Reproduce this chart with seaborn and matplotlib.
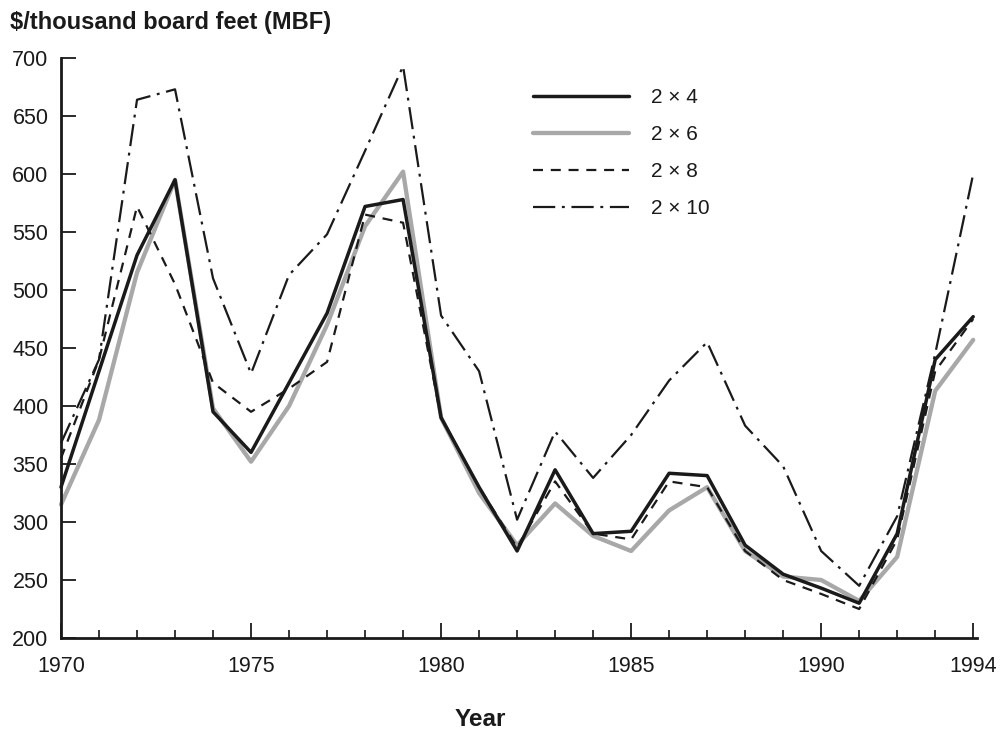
#!/usr/bin/env python3
"""Lumber prices per MBF, 1970-1994, by dimension (2x4 .. 2x10)."""

import matplotlib

matplotlib.use("Agg")
import matplotlib.pyplot as plt
import pandas as pd
import seaborn as sns

# Data
years = list(range(1970, 1995))
price_2x4 = [330, 430, 530, 595, 395, 360, 420, 480, 572, 578, 390, 330, 275,
             345, 290, 292, 342, 340, 280, 255, 243, 230, 290, 440, 477]
price_2x6 = [315, 388, 515, 595, 398, 352, 400, 470, 555, 602, 390, 325, 280,
             316, 288, 275, 310, 330, 275, 253, 250, 232, 270, 413, 457]
price_2x8 = [355, 440, 572, 505, 420, 395, 415, 438, 565, 558, 390, 330, 278,
             335, 290, 285, 335, 330, 275, 250, 238, 225, 285, 430, 475]
price_2x10 = [368, 440, 664, 673, 510, 428, 513, 548, 620, 693, 478, 430, 302,
              378, 338, 375, 422, 455, 383, 348, 275, 245, 305, 445, 600]

series_labels = ["2 \u00d7 4", "2 \u00d7 6", "2 \u00d7 8", "2 \u00d7 10"]
x_ticks = [1970, 1975, 1980, 1985, 1990, 1994]
y_ticks = list(range(200, 701, 50))

sns.set_style("ticks")
plt.rcParams["font.family"] = ["Liberation Sans", "DejaVu Sans"]

df = pd.DataFrame({
    "year": years,
    series_labels[0]: price_2x4,
    series_labels[1]: price_2x6,
    series_labels[2]: price_2x8,
    series_labels[3]: price_2x10,
})

fig = plt.figure(figsize=(10.05, 7.34), dpi=100)
ax = fig.add_axes([61 / 1005, 96 / 734, 916 / 1005, 580 / 734])

# style per series: color, width, linestyle, zorder
styles = {
    series_labels[0]: dict(color="#1a1a1a", linewidth=2.5, linestyle="-", zorder=5),
    series_labels[1]: dict(color="#a8a8a8", linewidth=3.1, linestyle="-", zorder=2),
    series_labels[2]: dict(color="#1a1a1a", linewidth=1.6, linestyle=(0, (4.5, 3.5)), zorder=3),
    series_labels[3]: dict(color="#1a1a1a", linewidth=1.6,
                           linestyle=(0, (10, 3, 1.3, 3)), zorder=4),
}

for lab in series_labels:
    sns.lineplot(data=df, x="year", y=lab, ax=ax, label=lab, clip_on=False,
                 **styles[lab])

ax.set_xlim(1970, 1994.1)
ax.set_ylim(200, 700)
ax.set_xticks(x_ticks)
ax.set_xticks(years, minor=True)
ax.set_yticks(y_ticks)
ax.set_xlabel("")
ax.set_ylabel("")

for side in ["top", "right"]:
    ax.spines[side].set_visible(False)
for side in ["left", "bottom"]:
    ax.spines[side].set_linewidth(2.0)
    ax.spines[side].set_color("#1a1a1a")

ax.tick_params(axis="y", direction="in", length=11, width=1.3, pad=9,
               labelsize=15.5, colors="#1a1a1a")
ax.tick_params(axis="x", which="major", direction="in", length=11, width=1.3,
               pad=13, labelsize=15.5, colors="#1a1a1a")
ax.tick_params(axis="x", which="minor", direction="in", length=6, width=1.3)

leg = ax.legend(
    loc="upper left",
    bbox_to_anchor=(0.515, 0.948),
    frameon=False,
    fontsize=15,
    handlelength=4.6,
    handletextpad=1.1,
    labelspacing=0.86,
    borderpad=0,
    borderaxespad=0,
)
for txt in leg.get_texts():
    txt.set_color("#1a1a1a")

fig.text(10 / 1005, 1 - 22 / 734, "$/thousand board feet (MBF)", fontsize=17,
         fontweight="bold", ha="left", va="center", color="#1a1a1a")
fig.text(480 / 1005, 1 - 719 / 734, "Year", fontsize=17.5, fontweight="bold",
         ha="center", va="center", color="#1a1a1a")

fig.savefig("out.png", dpi=100)
plt.close(fig)
